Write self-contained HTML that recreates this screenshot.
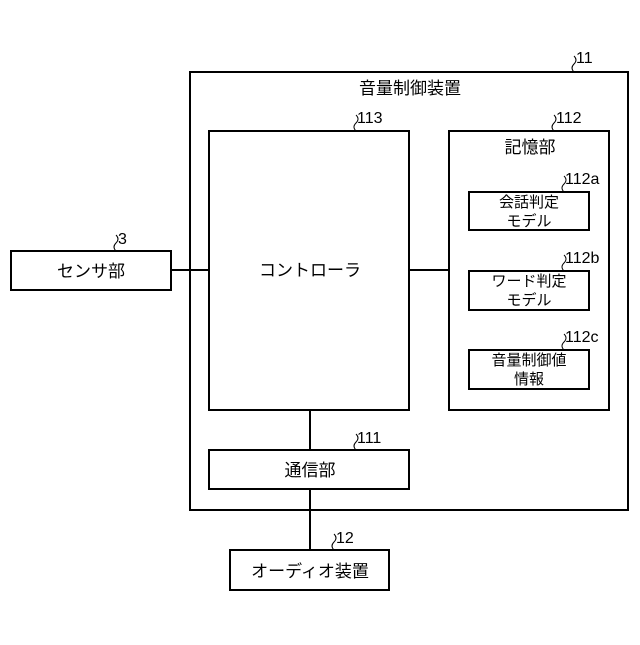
<!DOCTYPE html>
<html><head><meta charset="utf-8"><style>
body{margin:0;background:#fff}
svg text{font-family:"Liberation Sans","Noto Sans CJK JP",sans-serif;fill:#000}
</style></head><body>
<svg width="640" height="640" viewBox="0 0 640 640" xmlns="http://www.w3.org/2000/svg">
<g fill="#fff" stroke="#000" stroke-width="2">
<rect x="190" y="72" width="438" height="438"/>
<rect x="209" y="131" width="200" height="279"/>
<rect x="449" y="131" width="160" height="279"/>
<rect x="469" y="192" width="120" height="38"/>
<rect x="469" y="271" width="120" height="39"/>
<rect x="469" y="350" width="120" height="39"/>
<rect x="209" y="450" width="200" height="39"/>
<rect x="11" y="251" width="160" height="39"/>
<rect x="230" y="550" width="159" height="40"/>
</g>
<g stroke="#000" stroke-width="2" fill="none">
<line x1="171" y1="270" x2="209" y2="270"/>
<line x1="409" y1="270" x2="449" y2="270"/>
<line x1="310" y1="410" x2="310" y2="450"/>
<line x1="310" y1="489" x2="310" y2="550"/>
</g>
<g stroke="#000" stroke-width="1" fill="none">
<path d="M574 72 q-4 -4 0 -8 q4 -4 0 -8"/>
<path d="M356 131 q-4 -4 0 -8 q4 -4 0 -8"/>
<path d="M554 131 q-4 -4 0 -8 q4 -4 0 -8"/>
<path d="M564 192 q-4 -4 0 -8 q4 -4 0 -8"/>
<path d="M564 271 q-4 -4 0 -8 q4 -4 0 -8"/>
<path d="M564 350 q-4 -4 0 -8 q4 -4 0 -8"/>
<path d="M356 450 q-4 -4 0 -8 q4 -4 0 -8"/>
<path d="M334 550 q-4 -4 0 -8 q4 -4 0 -8"/>
<path d="M116 251 q-4 -4 0 -8 q4 -4 0 -8"/>
</g>
<g font-size="16">
<text x="576" y="63">11</text>
<text x="357" y="123">113</text>
<text x="556" y="123">112</text>
<text x="565" y="184">112a</text>
<text x="565" y="263">112b</text>
<text x="565" y="342">112c</text>
<text x="357" y="443">111</text>
<text x="336" y="543">12</text>
<text x="118" y="244">3</text>
</g>
<g font-size="17" text-anchor="middle">
<text x="410" y="94">音量制御装置</text>
<text x="530" y="153">記憶部</text>
<text x="310" y="276">コントローラ</text>
<text x="91" y="277">センサ部</text>
<text x="310" y="476">通信部</text>
<text x="310" y="577">オーディオ装置</text>
</g>
<g font-size="15" text-anchor="middle">
<text x="529" y="207">会話判定</text>
<text x="529" y="226">モデル</text>
<text x="529" y="286">ワード判定</text>
<text x="529" y="305">モデル</text>
<text x="529" y="365">音量制御値</text>
<text x="529" y="384">情報</text>
</g>
</svg>
</body></html>
